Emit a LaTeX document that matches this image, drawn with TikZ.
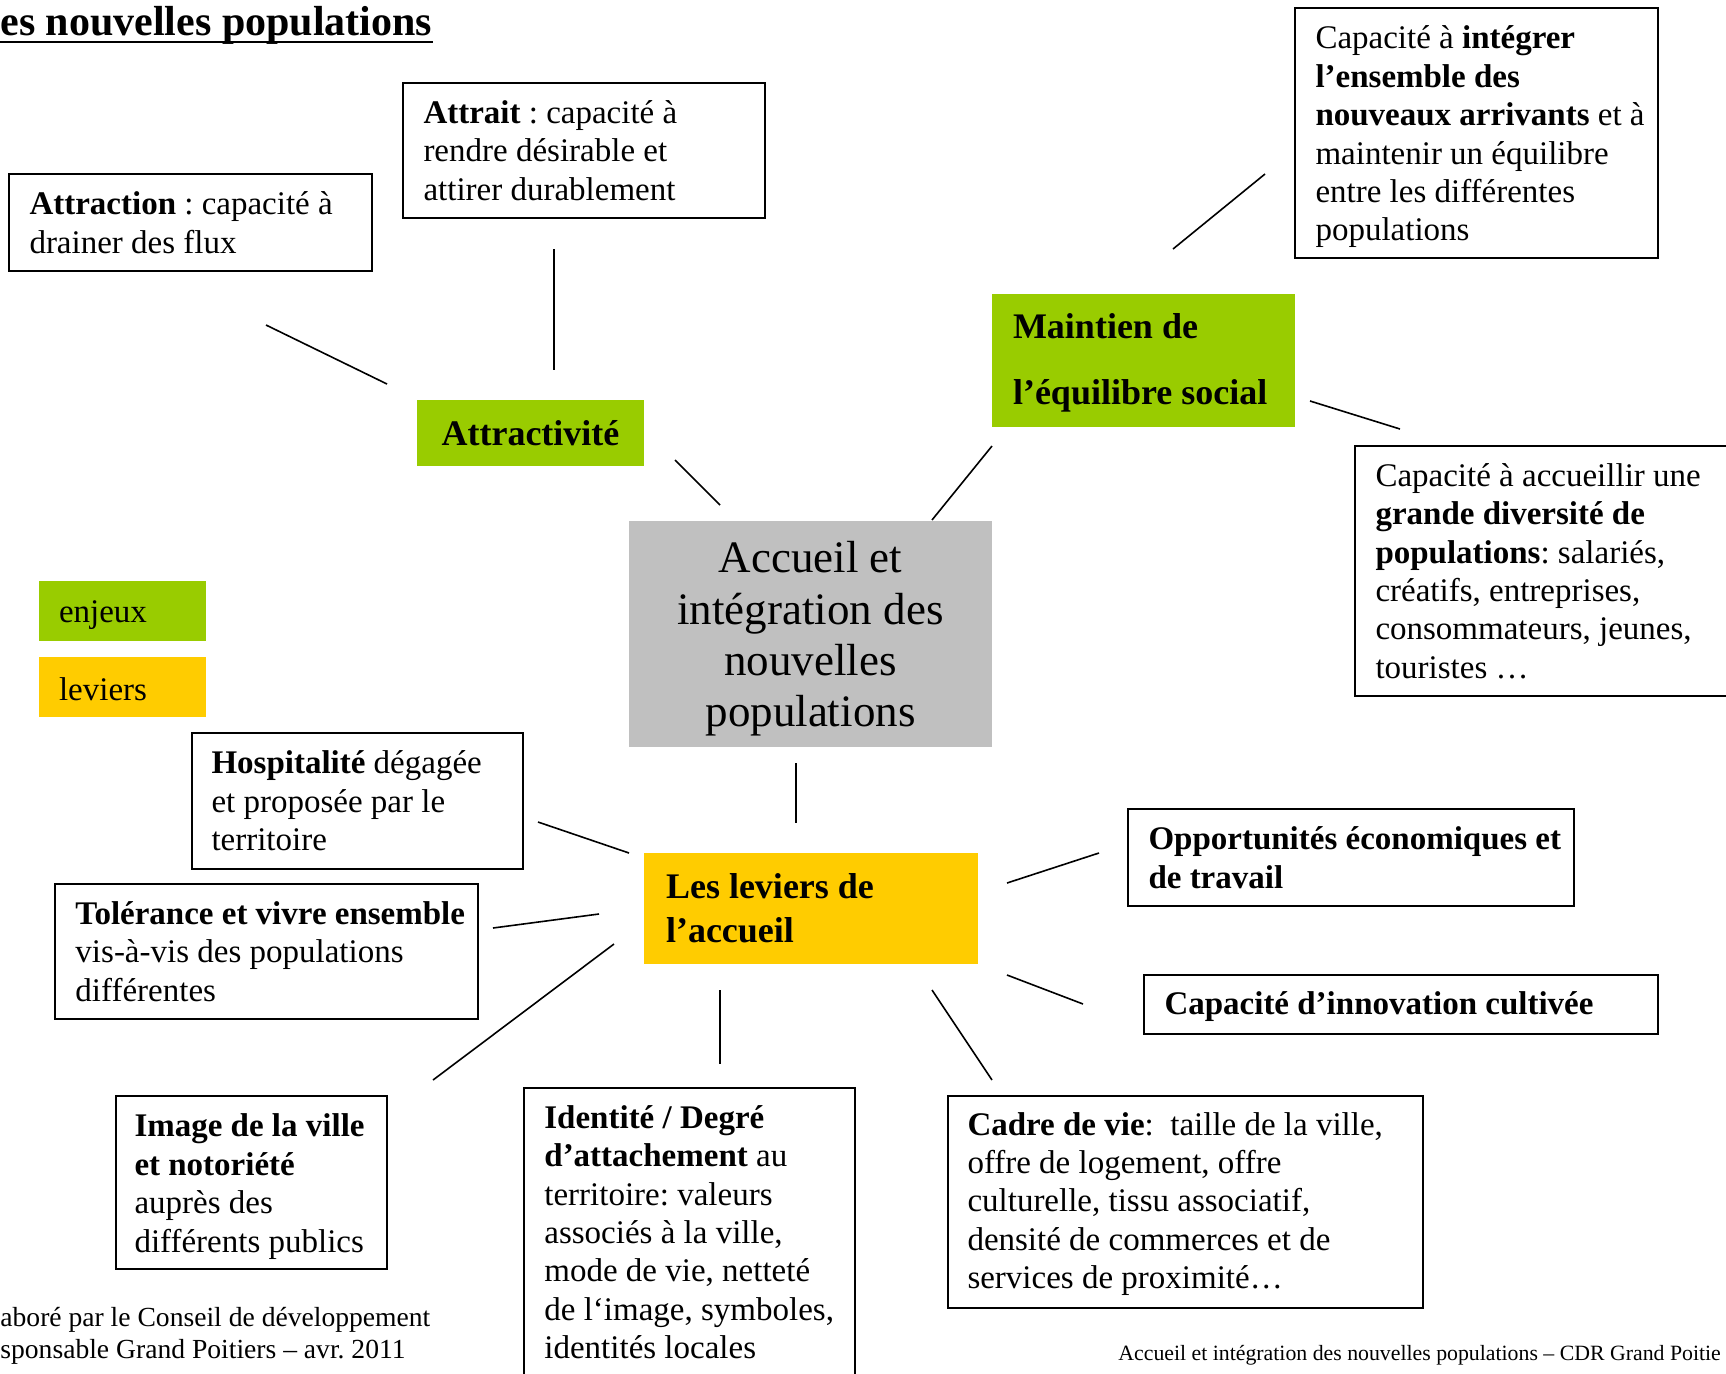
\documentclass[tikz,border=0pt]{standalone}
\usepackage{fontspec}
\setmainfont{Liberation Serif}
\usetikzlibrary{fit}
\definecolor{enjeu}{HTML}{99CC00}
\definecolor{levier}{HTML}{FFCC00}
\definecolor{centre}{HTML}{C0C0C0}
\frenchspacing
\begin{document}
\begin{tikzpicture}[x=0.5pt,y=-0.5pt,
  frame/.style={draw, line width=0.9pt, inner sep=0pt},
  plain/.style={inner sep=0pt},
  body/.style={inner sep=0pt, align=left, font=\fontsize{16.5}{19.2}\selectfont},
  bigbold/.style={inner sep=0pt, align=left, font=\fontsize{18}{22}\selectfont\bfseries},
  link/.style={line width=0.8pt}]
\useasboundingbox (0,0) rectangle (1726,1373);

% title
\node[anchor=base west, inner sep=0pt, font=\fontsize{21}{25}\selectfont\bfseries] (title) at (0,35) {es nouvelles populations};
\draw[line width=1pt] ([yshift=-3.5pt]title.base west) -- ([yshift=-3.5pt]title.base east);

% top boxes
\node[frame, fit={(9,174) (372,271)}] (attraction) {};
\node[body, anchor=west] (tattraction) at ([xshift=10.5pt]attraction.west) {\textbf{Attraction} : capacité à\\drainer des flux};

\node[frame, fit={(403,83) (765,218)}] (attrait) {};
\node[body, anchor=west] (tattrait) at ([xshift=10.5pt]attrait.west) {\textbf{Attrait} : capacité à\\rendre désirable et\\attirer durablement};

\node[frame, fit={(1295,8) (1658,258)}] (integrer) {};
\node[body, anchor=west] (tintegrer) at ([xshift=10.5pt,yshift=-2pt]integrer.west) {Capacité à \textbf{intégrer}\\\textbf{l’ensemble des}\\\textbf{nouveaux arrivants} et à\\maintenir un équilibre\\entre les différentes\\populations};

\node[plain, fill=enjeu, fit={(992,294) (1295,427)}] (maintien) {};
\node[inner sep=0pt, align=left, font=\fontsize{18}{33}\selectfont\bfseries, anchor=west] (tmaintien) at ([xshift=10.5pt,yshift=-1pt]maintien.west) {Maintien de\\l’équilibre social};

\node[plain, fill=enjeu, fit={(417,400) (644,466)}] (attractivite) {};
\node[inner sep=0pt, font=\fontsize{18}{22}\selectfont\bfseries] (tattractivite) at (attractivite.center) {Attractivité};

\node[plain, fill=centre, fit={(629,521) (992,747)}] (centre) {};
\node[inner sep=0pt, align=center, font=\fontsize{22.5}{25.7}\selectfont] (tcentre) at ([yshift=-2.5pt]centre.center) {Accueil et\\intégration des\\nouvelles\\populations};

\node[frame, fit={(1355,446) (1770,696)}] (diversite) {};
\node[body, anchor=west] (tdiversite) at ([xshift=10.5pt]diversite.west) {Capacité à accueillir une\\\textbf{grande diversité de}\\\textbf{populations}: salariés,\\créatifs, entreprises,\\consommateurs, jeunes,\\touristes \dots};

% legend
\node[plain, fill=enjeu, fit={(39,581) (206,641)}] (legenjeux) {};
\node[body, anchor=west] (tlegenjeux) at ([xshift=10pt,yshift=-2pt]legenjeux.west) {enjeux};
\node[plain, fill=levier, fit={(39,657) (206,717)}] (legleviers) {};
\node[body, anchor=west] (tlegleviers) at ([xshift=10pt,yshift=-1pt]legleviers.west) {leviers};

% leviers
\node[plain, fill=levier, fit={(644,853) (978,964)}] (leviers) {};
\node[bigbold, anchor=west] (tleviers) at ([xshift=11pt]leviers.west) {Les leviers de\\l’accueil};

\node[frame, fit={(192,733) (523,869)}] (hospitalite) {};
\node[body, anchor=west] (thospitalite) at ([xshift=10pt]hospitalite.west) {\textbf{Hospitalité} dégagée\\et proposée par le\\territoire};

\node[frame, fit={(55,884) (478,1019)}] (tolerance) {};
\node[body, anchor=west] (ttolerance) at ([xshift=10.5pt]tolerance.west) {\textbf{Tolérance et vivre ensemble}\\vis-à-vis des populations\\différentes};

\node[frame, fit={(1128,809) (1574,906)}] (opportunites) {};
\node[body, anchor=west, font=\fontsize{16.5}{19.2}\selectfont\bfseries] (topportunites) at ([xshift=10.5pt]opportunites.west) {Opportunités économiques et\\de travail};

\node[frame, fit={(1144,975) (1658,1034)}] (innovation) {};
\node[body, anchor=west, font=\fontsize{16.5}{19.2}\selectfont\bfseries] (tinnovation) at ([xshift=10.5pt,yshift=-1pt]innovation.west) {Capacité d’innovation cultivée};

\node[frame, fit={(116,1096) (387,1269)}] (image) {};
\node[body, anchor=west] (timage) at ([xshift=9.5pt,yshift=-2pt]image.west) {\textbf{Image de la ville}\\\textbf{et notoriété}\\auprès des\\différents publics};

\node[frame, fit={(524,1088) (855,1420)}] (identite) {};
\node[body, anchor=north west] (tidentite) at (544,1105) {\textbf{Identité / Degré}\\\textbf{d’attachement} au\\territoire: valeurs\\associés à la ville,\\mode de vie, netteté\\de l‘image, symboles,\\identités locales};

\node[frame, fit={(948,1096) (1423,1308)}] (cadre) {};
\node[body, anchor=west] (tcadre) at ([xshift=10pt,yshift=-1pt]cadre.west) {\textbf{Cadre de vie}:\ \ taille de la ville,\\offre de logement, offre\\culturelle, tissu associatif,\\densité de commerces et de\\services de proximité\dots};

% footers
\node[inner sep=0pt, align=left, anchor=west, font=\fontsize{13.8}{16}\selectfont] (footleft) at (0,1336) {aboré par le Conseil de développement\\sponsable Grand Poitiers – avr. 2011};
\node[inner sep=0pt, anchor=west, font=\fontsize{10.9}{13}\selectfont] (footright) at (1118,1355) {Accueil et intégration des nouvelles populations – CDR Grand Poitie};

% connector ends
\coordinate (a1) at (266,325); \coordinate (b1) at (387,384);
\coordinate (a2) at (554,249); \coordinate (b2) at (554,370);
\coordinate (a3) at (675,460); \coordinate (b3) at (720,505);
\coordinate (a4) at (992,446); \coordinate (b4) at (932,520);
\coordinate (a5) at (1173,249); \coordinate (b5) at (1265,174);
\coordinate (a6) at (1310,401); \coordinate (b6) at (1400,429);
\coordinate (a7) at (796,763); \coordinate (b7) at (796,823);
\coordinate (a8) at (538,822); \coordinate (b8) at (629,853);
\coordinate (a9) at (493,928); \coordinate (b9) at (599,914);
\coordinate (a10) at (433,1080); \coordinate (b10) at (614,944);
\coordinate (a11) at (720,990); \coordinate (b11) at (720,1064);
\coordinate (a12) at (932,990); \coordinate (b12) at (992,1080);
\coordinate (a13) at (1007,975); \coordinate (b13) at (1083,1004);
\coordinate (a14) at (1007,883); \coordinate (b14) at (1099,853);
\foreach \i in {1,...,14} { \draw[link] (a\i) -- (b\i); }
\end{tikzpicture}
\end{document}
